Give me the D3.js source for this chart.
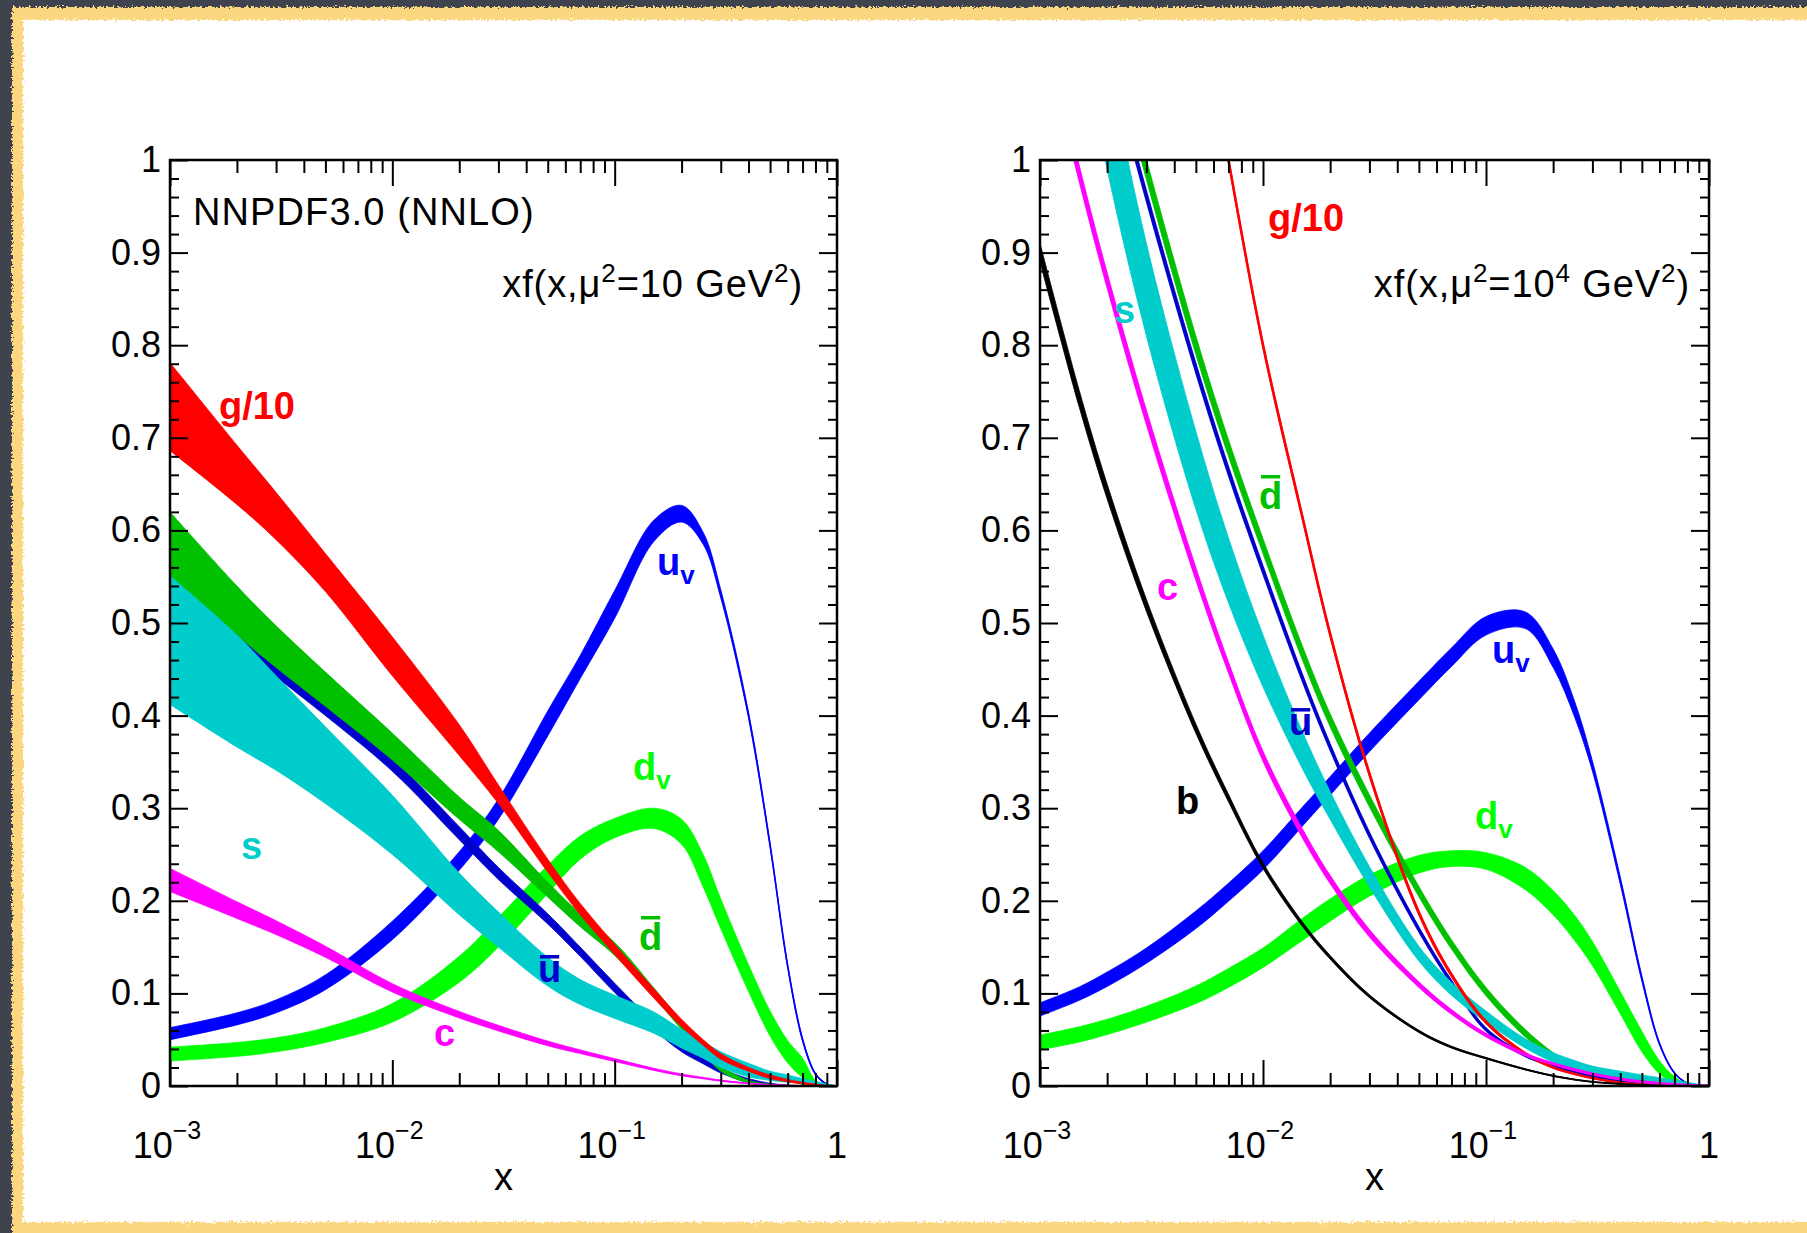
<!DOCTYPE html>
<html>
<head>
<meta charset="utf-8">
<script src="https://cdn.jsdelivr.net/npm/d3@7"></script>
<style>
  html, body { margin: 0; padding: 0; background: #3f434e; }
  svg { display: block; }
  text { font-family: "Liberation Sans", Arial, Helvetica, sans-serif; }
</style>
</head>
<body>
<div id="chartContainer"></div>
<script>
// ---- data ----
// left panel: mu^2 = 10 GeV^2
const xGrid10 = [0.001, 0.002, 0.003, 0.005, 0.01, 0.02, 0.03, 0.05, 0.07, 0.1, 0.15, 0.2, 0.25, 0.3, 0.4, 0.5, 0.6, 0.7, 0.8, 0.9, 1.0];
const gLo10    = [0.686, 0.628, 0.590, 0.534, 0.443, 0.357, 0.305, 0.231, 0.185, 0.142, 0.095, 0.064, 0.044, 0.029, 0.016, 0.008, 0.0045, 0.002, 0.001, 0.0002, 0];
const gHi10    = [0.781, 0.692, 0.641, 0.575, 0.485, 0.390, 0.325, 0.245, 0.197, 0.153, 0.105, 0.072, 0.050, 0.035, 0.020, 0.012, 0.007, 0.004, 0.002, 0.0005, 0];
const dbarLo10 = [0.551, 0.487, 0.452, 0.410, 0.352, 0.288, 0.253, 0.204, 0.172, 0.141, 0.096, 0.061, 0.036, 0.016, 0.003, 0.001, 0, 0, 0, 0, 0];
const dbarHi10 = [0.620, 0.540, 0.497, 0.447, 0.381, 0.312, 0.276, 0.220, 0.186, 0.155, 0.106, 0.069, 0.042, 0.022, 0.006, 0.002, 0.0005, 0, 0, 0, 0];
const ubarLo10 = [0.541, 0.477, 0.442, 0.400, 0.340, 0.266, 0.223, 0.175, 0.140, 0.101, 0.061, 0.037, 0.024, 0.014, 0.004, 0.001, 0, 0, 0, 0, 0];
const ubarHi10 = [0.555, 0.491, 0.456, 0.414, 0.354, 0.280, 0.236, 0.186, 0.150, 0.111, 0.069, 0.044, 0.030, 0.019, 0.008, 0.003, 0.001, 0, 0, 0, 0];
const sLo10    = [0.412, 0.366, 0.341, 0.305, 0.250, 0.185, 0.150, 0.108, 0.088, 0.073, 0.057, 0.041, 0.030, 0.020, 0.010, 0.006, 0.004, 0.003, 0.0015, 0.0005, 0];
const sHi10    = [0.551, 0.487, 0.443, 0.388, 0.314, 0.230, 0.188, 0.139, 0.115, 0.098, 0.080, 0.061, 0.048, 0.037, 0.0245, 0.016, 0.012, 0.008, 0.005, 0.002, 0];
const cLo10    = [0.210, 0.181, 0.1635, 0.139, 0.1015, 0.0735, 0.0595, 0.0435, 0.035, 0.0264, 0.0168, 0.011, 0.0077, 0.0052, 0.0024, 0.001, 0.0004, 0.0002, 0.0001, 0, 0];
const cHi10    = [0.235, 0.199, 0.1785, 0.151, 0.1105, 0.0805, 0.0655, 0.0485, 0.039, 0.0296, 0.0192, 0.013, 0.0093, 0.0064, 0.0032, 0.0016, 0.0008, 0.0004, 0.0001, 0, 0];
const dvLo10   = [0.027, 0.032, 0.037, 0.047, 0.069, 0.112, 0.150, 0.208, 0.245, 0.268, 0.278, 0.261, 0.215, 0.170, 0.102, 0.054, 0.025, 0.009, 0, 0, 0];
const dvHi10   = [0.042, 0.047, 0.052, 0.063, 0.089, 0.140, 0.182, 0.238, 0.270, 0.289, 0.300, 0.288, 0.250, 0.202, 0.131, 0.081, 0.049, 0.030, 0.006, 0, 0];
const uvLo10   = [0.050, 0.066, 0.079, 0.104, 0.158, 0.233, 0.288, 0.378, 0.440, 0.505, 0.588, 0.609, 0.585, 0.527, 0.397, 0.257, 0.127, 0.048, 0.012, 0.0015, 0];
const uvHi10   = [0.063, 0.079, 0.093, 0.120, 0.178, 0.253, 0.310, 0.405, 0.465, 0.535, 0.611, 0.627, 0.598, 0.536, 0.404, 0.263, 0.132, 0.052, 0.014, 0.0025, 0];

// right panel: mu^2 = 10^4 GeV^2 (values above 1 run off the top of the frame)
const xGrid1e4 = [0.001, 0.0015, 0.002, 0.003, 0.005, 0.007, 0.01, 0.015, 0.02, 0.03, 0.05, 0.07, 0.1, 0.15, 0.2, 0.25, 0.3, 0.4, 0.5, 0.6, 0.7, 0.8, 0.9, 1.0];
const gLo1e4    = [2.425, 2.075, 1.845, 1.545, 1.200, 0.995, 0.7955, 0.6108, 0.484, 0.3335, 0.184, 0.1175, 0.067, 0.0335, 0.019, 0.0122, 0.0079, 0.0034, 0.0017, 0.0008, 0.0004, 0.0001, 0, 0];
const gHi1e4    = [2.435, 2.085, 1.855, 1.555, 1.210, 1.005, 0.8045, 0.6192, 0.492, 0.3405, 0.190, 0.1225, 0.071, 0.0365, 0.021, 0.0138, 0.0091, 0.0042, 0.0021, 0.001, 0.0004, 0.0001, 0, 0];
const dbarLo1e4 = [1.455, 1.267, 1.142, 0.979, 0.790, 0.680, 0.575, 0.4605, 0.388, 0.3015, 0.2045, 0.148, 0.0975, 0.053, 0.030, 0.0168, 0.0095, 0.0022, 0.0006, 0.0001, 0, 0, 0, 0];
const dbarHi1e4 = [1.479, 1.291, 1.166, 1.001, 0.810, 0.698, 0.591, 0.4755, 0.402, 0.3145, 0.2155, 0.158, 0.1065, 0.061, 0.036, 0.0212, 0.0125, 0.0038, 0.0014, 0.0005, 0.0002, 0, 0, 0];
const ubarLo1e4 = [1.414, 1.234, 1.114, 0.9545, 0.769, 0.6585, 0.552, 0.4365, 0.362, 0.2675, 0.166, 0.1095, 0.059, 0.0315, 0.0208, 0.014, 0.0097, 0.005, 0.0027, 0.0013, 0.0007, 0.0003, 0.0001, 0];
const ubarHi1e4 = [1.428, 1.248, 1.128, 0.9675, 0.781, 0.6695, 0.562, 0.4455, 0.370, 0.2745, 0.172, 0.1145, 0.063, 0.0345, 0.0232, 0.016, 0.0113, 0.006, 0.0033, 0.0017, 0.0009, 0.0003, 0.0001, 0];
const sLo1e4    = [1.380, 1.145, 0.990, 0.810, 0.623, 0.522, 0.431, 0.343, 0.288, 0.215, 0.135, 0.098, 0.069, 0.041, 0.026, 0.0185, 0.0135, 0.008, 0.005, 0.003, 0.0015, 0.001, 0.0002, 0];
const sHi1e4    = [1.520, 1.275, 1.110, 0.910, 0.707, 0.592, 0.487, 0.383, 0.318, 0.237, 0.151, 0.112, 0.081, 0.051, 0.036, 0.0275, 0.0215, 0.016, 0.012, 0.009, 0.0065, 0.004, 0.0018, 0];
const cLo1e4    = [1.152, 0.976, 0.8615, 0.714, 0.546, 0.446, 0.3505, 0.268, 0.2185, 0.161, 0.1065, 0.0775, 0.053, 0.0325, 0.023, 0.0167, 0.0124, 0.0071, 0.0042, 0.0026, 0.0015, 0.0008, 0.0003, 0];
const cHi1e4    = [1.170, 0.994, 0.8785, 0.730, 0.560, 0.458, 0.3615, 0.278, 0.2275, 0.169, 0.1125, 0.0825, 0.057, 0.0355, 0.025, 0.0183, 0.0136, 0.0079, 0.0048, 0.003, 0.0017, 0.0008, 0.0003, 0];
const bLo1e4    = [0.890, 0.733, 0.634, 0.5125, 0.381, 0.307, 0.235, 0.1725, 0.137, 0.0954, 0.0578, 0.041, 0.0292, 0.0174, 0.0105, 0.0066, 0.0042, 0.002, 0.001, 0.0005, 0.0002, 0.0001, 0, 0];
const bHi1e4    = [0.910, 0.751, 0.650, 0.5255, 0.391, 0.315, 0.241, 0.1775, 0.141, 0.0986, 0.0602, 0.043, 0.0308, 0.0186, 0.0115, 0.0074, 0.0048, 0.0024, 0.0012, 0.0005, 0.0002, 0.0001, 0, 0];
const uvLo1e4   = [0.0755, 0.0925, 0.1075, 0.1325, 0.170, 0.1995, 0.2335, 0.2805, 0.314, 0.361, 0.417, 0.453, 0.487, 0.494, 0.452, 0.398, 0.340, 0.218, 0.113, 0.044, 0.0133, 0.0028, 0.0004, 0];
const uvHi1e4   = [0.0898, 0.107, 0.123, 0.149, 0.189, 0.219, 0.254, 0.301, 0.334, 0.381, 0.437, 0.473, 0.507, 0.512, 0.472, 0.415, 0.351, 0.226, 0.119, 0.047, 0.0148, 0.0032, 0.0006, 0];
const dvLo1e4   = [0.039, 0.0475, 0.0555, 0.069, 0.089, 0.1065, 0.128, 0.157, 0.178, 0.205, 0.230, 0.237, 0.234, 0.212, 0.185, 0.157, 0.130, 0.078, 0.037, 0.013, 0.003, 0.0003, 0, 0];
const dvHi1e4   = [0.055, 0.064, 0.072, 0.086, 0.108, 0.127, 0.149, 0.181, 0.202, 0.228, 0.249, 0.254, 0.252, 0.236, 0.211, 0.184, 0.156, 0.102, 0.059, 0.027, 0.010, 0.002, 0, 0];

// ticks
const yMajor = d3.range(0, 11).map(i => i / 10);
const yMinor = d3.range(0, 51).map(i => i / 50).filter((d, i) => i % 5 !== 0);
const yTickLabels = ["0", "0.1", "0.2", "0.3", "0.4", "0.5", "0.6", "0.7", "0.8", "0.9", "1"];
const xMajor = [1e-3, 1e-2, 1e-1, 1];
const xMinor = [1e-3, 1e-2, 1e-1].flatMap(p => [2, 3, 4, 5, 6, 7, 8, 9].map(k => k * p));
const xTickBase = ["10", "10", "10", "1"];
const xTickExp = ["\u22123", "\u22122", "\u22121", ""];

(function() {
  const W = 1807, H = 1233;
  const plotTop = 160, plotBottom = 1086;
  const colors = {
    g: "#ff0000", dbar: "#00c000", ubar: "#0000cc", s: "#00cccc",
    c: "#ff00ff", uv: "#0000ff", dv: "#00ff00", b: "#000000"
  };

  const panels = [
    {
      id: "p10", x0: 170, x1: 837, xs: xGrid10,
      muExp: null, annEnd: 803,
      bands: [
        {k: "uv", lo: uvLo10, hi: uvHi10, w: 1.4},
        {k: "dv", lo: dvLo10, hi: dvHi10, w: 1.2},
        {k: "ubar", lo: ubarLo10, hi: ubarHi10, w: 1.2},
        {k: "dbar", lo: dbarLo10, hi: dbarHi10, w: 1.2},
        {k: "s", lo: sLo10, hi: sHi10, w: 1.2},
        {k: "g", lo: gLo10, hi: gHi10, w: 1.4},
        {k: "c", lo: cLo10, hi: cHi10, w: 1.4}
      ],
      labels: [
        {t: "g/10", k: "g", x: 0.00166, y: 0.7203},
        {t: "u", sub: "v", k: "uv", x: 0.155, y: 0.5518},
        {t: "d", sub: "v", k: "dv", x: 0.1209, y: 0.3305},
        {t: "s", k: "s", x: 0.002086, y: 0.2451},
        {t: "d", bar: true, k: "dbar", x: 0.1287, y: 0.1469},
        {t: "u", bar: true, k: "ubar", x: 0.04518, y: 0.1123},
        {t: "c", k: "c", x: 0.01539, y: 0.0432}
      ]
    },
    {
      id: "p1e4", x0: 1040, x1: 1709, xs: xGrid1e4,
      muExp: "4", annEnd: 1690,
      bands: [
        {k: "uv", lo: uvLo1e4, hi: uvHi1e4, w: 1.4},
        {k: "dv", lo: dvLo1e4, hi: dvHi1e4, w: 1.2},
        {k: "dbar", lo: dbarLo1e4, hi: dbarHi1e4, w: 3.4},
        {k: "ubar", lo: ubarLo1e4, hi: ubarHi1e4, w: 2.6},
        {k: "s", lo: sLo1e4, hi: sHi1e4, w: 1.5},
        {k: "g", lo: gLo1e4, hi: gHi1e4, w: 2.2},
        {k: "c", lo: cLo1e4, hi: cHi1e4, w: 3},
        {k: "b", lo: bLo1e4, hi: bHi1e4, w: 1.8}
      ],
      labels: [
        {t: "g/10", k: "g", x: 0.01053, y: 0.9233},
        {t: "s", k: "s", x: 0.002147, y: 0.824},
        {t: "d", bar: true, k: "dbar", x: 0.00959, y: 0.6231},
        {t: "c", k: "c", x: 0.003347, y: 0.5248},
        {t: "u", sub: "v", k: "uv", x: 0.1064, y: 0.4568},
        {t: "u", bar: true, k: "ubar", x: 0.01308, y: 0.379},
        {t: "b", k: "b", x: 0.00407, y: 0.2937},
        {t: "d", sub: "v", k: "dv", x: 0.0893, y: 0.2775}
      ]
    }
  ];

  const svg = d3.create("svg")
    .attr("width", W)
    .attr("height", H)
    .attr("viewBox", [0, 0, W, H]);

  // rough slide frame
  const defs = svg.append("defs");
  const rough = defs.append("filter").attr("id", "rough")
    .attr("x", "-5%").attr("y", "-5%").attr("width", "110%").attr("height", "110%");
  rough.append("feTurbulence").attr("type", "fractalNoise").attr("baseFrequency", 0.45)
    .attr("numOctaves", 2).attr("seed", 4).attr("result", "n");
  rough.append("feDisplacementMap").attr("in", "SourceGraphic").attr("in2", "n")
    .attr("scale", 7).attr("xChannelSelector", "R").attr("yChannelSelector", "G");

  svg.append("rect").attr("width", W).attr("height", H).attr("fill", "#3f434e");
  svg.append("rect").attr("x", 12).attr("y", 7).attr("width", W + 40).attr("height", H + 40)
    .attr("fill", "#fbd780").attr("filter", "url(#rough)");
  svg.append("rect").attr("x", 23).attr("y", 20).attr("width", W + 40).attr("height", 1202)
    .attr("fill", "#ffffff").attr("filter", "url(#rough)");
  // plain white body so the right edge stays clean
  svg.append("rect").attr("x", 40).attr("y", 36).attr("width", W - 40).attr("height", 1170)
    .attr("fill", "#ffffff");

  const curve = d3.curveCatmullRom.alpha(0.5);

  panels.forEach(p => {
    const x = d3.scaleLog().domain([1e-3, 1]).range([p.x0, p.x1]);
    const y = d3.scaleLinear().domain([0, 1]).range([plotBottom, plotTop]);
    const g = svg.append("g").attr("id", p.id);

    defs.append("clipPath").attr("id", "clip-" + p.id)
      .append("rect").attr("x", p.x0).attr("y", plotTop)
      .attr("width", p.x1 - p.x0).attr("height", plotBottom - plotTop);

    // bands: filled error band plus a centre line so thin parts stay visible
    const bandG = g.append("g").attr("clip-path", `url(#clip-${p.id})`);
    p.bands.forEach(b => {
      const pts = p.xs.map((xv, i) => ({x: xv, lo: b.lo[i], hi: b.hi[i]}));
      const area = d3.area().x(d => x(d.x)).y0(d => y(d.lo)).y1(d => y(d.hi)).curve(curve);
      const mid = d3.line().x(d => x(d.x)).y(d => y((d.lo + d.hi) / 2)).curve(curve);
      bandG.append("path").attr("d", area(pts)).attr("fill", colors[b.k])
        .attr("stroke", colors[b.k]).attr("stroke-width", 0.8);
      bandG.append("path").attr("d", mid(pts)).attr("fill", "none")
        .attr("stroke", colors[b.k]).attr("stroke-width", b.w);
    });

    // axes: ticks point inwards on all four sides
    const styleAxis = sel => {
      sel.select(".domain").remove();
      sel.selectAll(".tick line").attr("stroke", "#000").attr("stroke-width", 2);
      sel.selectAll("text").attr("font-size", 36).attr("fill", "#000")
        .attr("font-family", '"Liberation Sans", Arial, sans-serif');
    };
    g.append("g").attr("transform", `translate(${p.x0},0)`)
      .call(d3.axisLeft(y).tickValues(yMajor).tickSize(-18).tickPadding(9).tickFormat((d, i) => yTickLabels[i]))
      .call(styleAxis);
    g.append("g").attr("transform", `translate(${p.x0},0)`)
      .call(d3.axisLeft(y).tickValues(yMinor).tickSize(-9).tickFormat(""))
      .call(styleAxis);
    g.append("g").attr("transform", `translate(${p.x1},0)`)
      .call(d3.axisRight(y).tickValues(yMajor).tickSize(-18).tickFormat(""))
      .call(styleAxis);
    g.append("g").attr("transform", `translate(${p.x1},0)`)
      .call(d3.axisRight(y).tickValues(yMinor).tickSize(-9).tickFormat(""))
      .call(styleAxis);
    g.append("g").attr("transform", `translate(0,${plotBottom})`)
      .call(d3.axisBottom(x).tickValues(xMajor).tickSize(-26).tickFormat(""))
      .call(styleAxis);
    g.append("g").attr("transform", `translate(0,${plotBottom})`)
      .call(d3.axisBottom(x).tickValues(xMinor).tickSize(-13).tickFormat(""))
      .call(styleAxis);
    g.append("g").attr("transform", `translate(0,${plotTop})`)
      .call(d3.axisTop(x).tickValues(xMajor).tickSize(-26).tickFormat(""))
      .call(styleAxis);
    g.append("g").attr("transform", `translate(0,${plotTop})`)
      .call(d3.axisTop(x).tickValues(xMinor).tickSize(-13).tickFormat(""))
      .call(styleAxis);

    // frame
    g.append("rect").attr("x", p.x0).attr("y", plotTop)
      .attr("width", p.x1 - p.x0).attr("height", plotBottom - plotTop)
      .attr("fill", "none").attr("stroke", "#000").attr("stroke-width", 2.5);

    // x tick labels 10^-3 ... 1
    xMajor.forEach((v, i) => {
      const t = g.append("text").attr("x", x(v) - (xTickExp[i] ? 3 : 0)).attr("y", 1158)
        .attr("text-anchor", "middle").attr("font-size", 36);
      t.append("tspan").text(xTickBase[i]);
      if (xTickExp[i]) t.append("tspan").attr("dy", -19).attr("font-size", 25).text(xTickExp[i]);
    });

    // axis title
    g.append("text").attr("x", (p.x0 + p.x1) / 2).attr("y", 1190)
      .attr("text-anchor", "middle").attr("font-size", 38).text("x");

    // scale annotation
    const ann = g.append("text").attr("x", p.annEnd).attr("y", 297)
      .attr("text-anchor", "end").attr("font-size", 38).attr("letter-spacing", 0.9);
    ann.append("tspan").text("xf(x,\u03bc");
    ann.append("tspan").attr("dy", -15).attr("font-size", 26).text("2");
    ann.append("tspan").attr("dy", 15).text("=10");
    if (p.muExp) {
      ann.append("tspan").attr("dy", -15).attr("font-size", 26).text(p.muExp);
      ann.append("tspan").attr("dy", 15).text(" GeV");
    } else {
      ann.append("tspan").text(" GeV");
    }
    ann.append("tspan").attr("dy", -15).attr("font-size", 26).text("2");
    ann.append("tspan").attr("dy", 15).text(")");

    // curve labels
    p.labels.forEach(l => {
      const t = g.append("text").attr("x", x(l.x)).attr("y", y(l.y))
        .attr("font-size", 38).attr("font-weight", "bold").attr("fill", colors[l.k]);
      t.append("tspan").text(l.t);
      if (l.sub) t.append("tspan").attr("dy", 9).attr("font-size", 26).text(l.sub);
      if (l.bar) t.attr("data-bar", "1");
    });
  });

  svg.append("text").attr("x", 193).attr("y", 225).attr("font-size", 38)
    .attr("letter-spacing", 1.1).text("NNPDF3.0 (NNLO)");

  document.getElementById("chartContainer").append(svg.node());

  // bars over the ubar / dbar labels, measured once the text is in the page
  svg.selectAll("text[data-bar]").each(function() {
    const bb = this.getBBox();
    const isD = this.textContent === "d";
    const yBar = isD ? bb.y + 3 : bb.y + 10;
    d3.select(this.parentNode).append("rect")
      .attr("x", bb.x + 2).attr("y", yBar - 3)
      .attr("width", bb.width - 4).attr("height", 3.5)
      .attr("fill", d3.select(this).attr("fill"));
  });
})();
</script>
</body>
</html>
